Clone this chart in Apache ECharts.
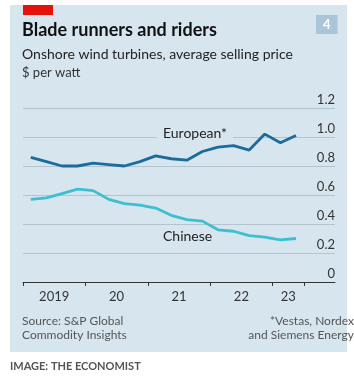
<!DOCTYPE html>
<html>
<head>
<meta charset="utf-8">
<script src="https://cdn.jsdelivr.net/npm/echarts@6/dist/echarts.min.js"></script>
<style>
    html, body { margin: 0; padding: 0; background: #fff; }
    #wrap { position: relative; width: 354px; height: 386px; }
    #panel { position: absolute; left: 10px; top: 5px; width: 337px; height: 347px; background: #d7e6ee; }
    #chart { position: absolute; left: 0; top: 0; width: 354px; height: 386px; }
</style>
</head>
<body>
<div id="wrap">
    <div id="panel"></div>
    <div id="chart"></div>
</div>
<script>
// quarterly, 2019 Q1 .. 2023 Q2, plotted at the middle of each quarter
const quarters = ['2019Q1', '2019Q2', '2019Q3', '2019Q4', '2020Q1', '2020Q2', '2020Q3', '2020Q4',
    '2021Q1', '2021Q2', '2021Q3', '2021Q4', '2022Q1', '2022Q2', '2022Q3', '2022Q4', '2023Q1', '2023Q2'];
const european = [0.86, 0.83, 0.80, 0.80, 0.82, 0.81, 0.80, 0.83, 0.87, 0.85, 0.84, 0.90,
    0.93, 0.94, 0.91, 1.02, 0.96, 1.01];
const chinese = [0.57, 0.58, 0.61, 0.64, 0.63, 0.57, 0.54, 0.53, 0.51, 0.46, 0.43, 0.42,
    0.36, 0.35, 0.32, 0.31, 0.29, 0.30];
const yearTicks = [2019, 2020, 2021, 2022, 2023, 2023.5];
const yearLabels = ['2019', '20', '21', '22', '23'];
const yearLabelPos = [2019.5, 2020.5, 2021.5, 2022.5, 2023.25];

function quarterToYear(q) {
    return Number(q.slice(0, 4)) + (Number(q.slice(5)) - 1) * 0.25 + 0.125;
}

const panelColor = '#d7e6ee';
const font = 'Lato';

function txt(text, left, top, size, color, extra) {
    return {
        text: text,
        left: left,
        top: top,
        padding: 0,
        textStyle: { fontFamily: font, fontSize: size, fontWeight: 'normal', color: color, ...(extra || {}) }
    };
}

let chartDom = document.getElementById('chart');
let myChart = echarts.init(chartDom);

let option = {
    backgroundColor: 'transparent',
    textStyle: { fontFamily: font },
    title: [
        txt('Blade runners and riders', 22, 21, 18, '#111', { fontWeight: 'bold' }),
        txt('Onshore wind turbines, average selling price', 22, 47, 14, '#222'),
        txt('$ per watt', 22, 66, 13, '#333'),
        {
            text: '4', left: 316, top: 15, padding: [2, 7, 2, 7], backgroundColor: '#a9c6d8',
            textStyle: { fontFamily: font, fontSize: 13, fontWeight: 'bold', color: '#fff', lineHeight: 15 }
        },
        {
            text: 'European*', left: 157, top: 124, padding: [1, 6, 1, 6], backgroundColor: panelColor,
            textStyle: { fontFamily: font, fontSize: 14, fontWeight: 'normal', color: '#222', lineHeight: 16 }
        },
        txt('Chinese', 163, 229, 14, '#222'),
        txt('Source: S&P Global', 22, 315, 12, '#555'),
        txt('Commodity Insights', 22, 329, 12, '#555'),
        txt('*Vestas, Nordex', 'right', 315, 12, '#555'),
        txt('and Siemens Energy', 'right', 329, 12, '#555'),
        txt('IMAGE: THE ECONOMIST', 10, 361, 11, '#555', { fontWeight: 'bold' })
    ],
    grid: { left: 23, right: 19, top: 108, bottom: 104 },
    xAxis: {
        type: 'value',
        min: 2019,
        max: 2024,
        splitLine: { show: false },
        axisLine: { show: true, lineStyle: { color: '#333', width: 1 } },
        axisTick: {
            show: true,
            customValues: yearTicks,
            length: 4,
            lineStyle: { color: '#333', width: 1 }
        },
        axisLabel: {
            customValues: yearLabelPos,
            margin: 8,
            fontSize: 13,
            color: '#333',
            fontFamily: font,
            formatter: function (v) {
                let i = yearLabelPos.indexOf(v);
                return i >= 0 ? yearLabels[i] : '';
            }
        }
    },
    yAxis: {
        type: 'value',
        position: 'right',
        min: 0,
        max: 1.2,
        interval: 0.2,
        axisLine: { show: false },
        axisTick: { show: false },
        splitLine: { show: true, lineStyle: { color: '#b3c4ce', width: 1 } },
        axisLabel: {
            inside: true,
            margin: 0,
            verticalAlign: 'bottom',
            padding: [0, 0, 2, 0],
            fontSize: 13,
            color: '#333',
            fontFamily: font,
            formatter: function (v) {
                return v === 0 ? '0' : v.toFixed(1);
            }
        }
    },
    series: [
        {
            type: 'line',
            data: quarters.map((q, i) => [quarterToYear(q), european[i]]),
            symbol: 'none',
            lineStyle: { color: '#1b6b9b', width: 2.8 }
        },
        {
            type: 'line',
            data: quarters.map((q, i) => [quarterToYear(q), chinese[i]]),
            symbol: 'none',
            lineStyle: { color: '#3dbfd1', width: 2.8 }
        }
    ],
    graphic: [
        { type: 'rect', x: 23, y: 5, shape: { width: 30, height: 10 }, style: { fill: '#e3120b' } }
    ]
};

option && myChart.setOption(option);
</script>
</body>
</html>
